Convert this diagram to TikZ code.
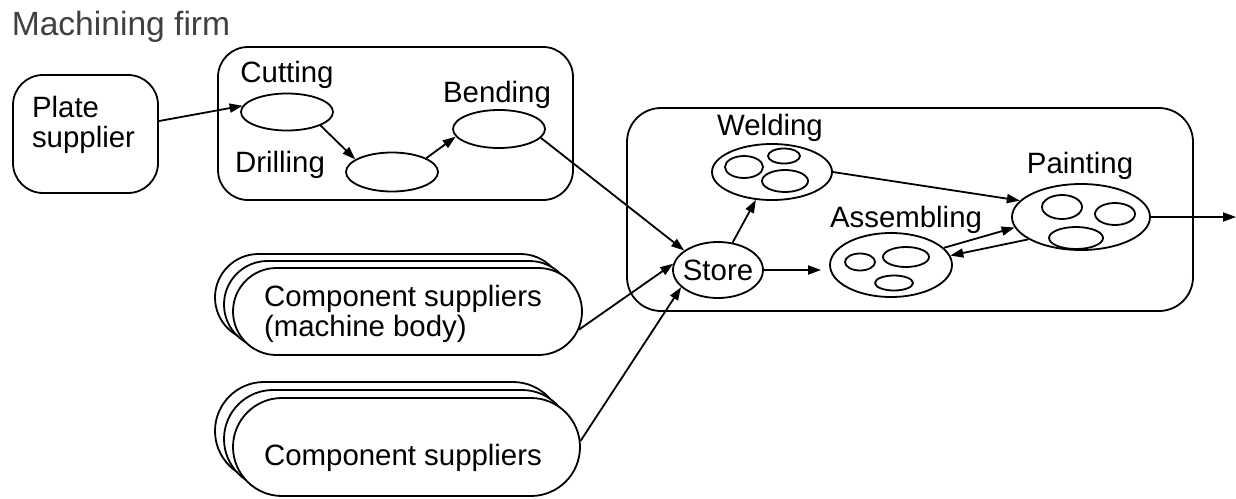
\documentclass[tikz,border=0pt]{standalone}
\usepackage{fontspec}
\setmainfont{Liberation Sans}
\usetikzlibrary{arrows.meta,shapes.geometric,shapes.misc}

\begin{document}
\begin{tikzpicture}[x=0.5pt,y=-0.5pt,line width=0.9pt,
every node/.style={font=\fontsize{14.7pt}{15pt}\selectfont,inner sep=0pt},
proc/.style={ellipse,draw},
grp/.style={draw,rectangle,rounded corners=15pt},
supp/.style={draw,fill=white,rounded rectangle},
>={Triangle[length=6.5pt,width=4.5pt]}]
\useasboundingbox (0,0) rectangle (1236,498);
\node[text=black!75,font=\fontsize{16.8pt}{18pt}\selectfont] (T) at (121,27) {Machining firm};
% suppliers
\node[grp,minimum width=72.5pt,minimum height=59pt] (P) at (85.5,134) {};
\node[align=left] (Ptxt) at (83.5,124.5) {Plate\\supplier};
\node[supp,minimum width=174.5pt,minimum height=43.5pt] (cs1c) at (389.5,297.5) {};
\node[supp,minimum width=174.5pt,minimum height=43.5pt] (cs1b) at (398.5,304.5) {};
\node[supp,minimum width=174.5pt,minimum height=43.5pt] (cs1) at (407.5,311.5) {};
\node[align=left] (cs1txt) at (403,313.5) {Component suppliers\\(machine body)};
\node[supp,minimum width=173.5pt,minimum height=49pt] (cs2c) at (388.5,431) {};
\node[supp,minimum width=173.5pt,minimum height=49pt] (cs2b) at (397.5,439) {};
\node[supp,minimum width=173.5pt,minimum height=49pt] (cs2) at (406.5,447) {};
\node (cs2txt) at (403,457.5) {Component suppliers};
% machining firm
\node[grp,minimum width=177.5pt,minimum height=76.5pt] (M) at (395.5,123.5) {};
\node[proc,minimum width=46pt,minimum height=18.5pt] (Cut) at (287,112) {};
\node[proc,minimum width=46pt,minimum height=19.5pt] (Drill) at (392,172) {};
\node[proc,minimum width=46pt,minimum height=19pt] (Bend) at (499,129) {};
\node (CutL) at (287,75) {Cutting};
\node (DrillL) at (280,165) {Drilling};
\node (BendL) at (497,95) {Bending};
% assembly plant
\node[grp,rounded corners=17pt,minimum width=283pt,minimum height=101.5pt] (F) at (910,209.5) {};
\node[proc,minimum width=45pt,minimum height=28pt,label=center:Store] (Store) at (718,270) {};
\node[proc,minimum width=60pt,minimum height=28pt] (Weld) at (772,172) {};
\node[proc,minimum width=61pt,minimum height=32pt] (Asm) at (891,265) {};
\node[proc,minimum width=69pt,minimum height=33pt] (Paint) at (1081,217) {};
\node (WeldL) at (770,128) {Welding};
\node (AsmL) at (906,220) {Assembling};
\node (PaintL) at (1080,166) {Painting};
\draw (744,167) ellipse [x radius=19,y radius=11];
\draw (784,156) ellipse [x radius=16,y radius=7.5];
\draw (785,181) ellipse [x radius=23,y radius=11];
\draw (860,262) ellipse [x radius=15,y radius=8.5];
\draw (906,257) ellipse [x radius=23,y radius=10];
\draw (894,283) ellipse [x radius=19,y radius=7.5];
\draw (1062,207) ellipse [x radius=20,y radius=12];
\draw (1115,214) ellipse [x radius=20,y radius=11];
\draw (1076,238) ellipse [x radius=27,y radius=11];
\coordinate (out) at (1236,217);
% flows
\draw[->] (P.10) -- (Cut.172);
\draw[->] (Cut.-22) -- (Drill.161);
\draw[->] (Drill.22) -- (Bend.190);
\draw[->] (Bend.-12) -- (Store.150);
\draw[->] (cs1.-6) -- (Store.172);
\draw[->] (cs2.2) -- (Store.205);
\draw[->] (Store.62) -- (Weld.240);
\draw[->,shorten >=4pt] (Store.east) -- (Store.east -| Asm.west);
\draw[->] (Weld.east) -- (Paint.165);
\draw[->] (Asm.18) -- (Paint.189);
\draw[->] (Paint.203) -- (Asm.9);
\draw[->] (Paint.east) -- (out);
\end{tikzpicture}
\end{document}
